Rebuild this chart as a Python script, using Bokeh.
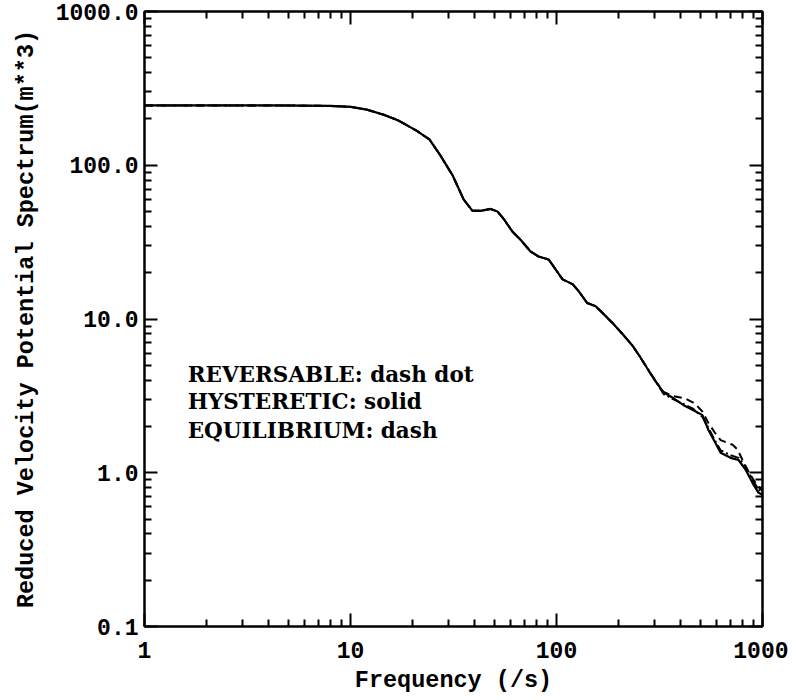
from bokeh.plotting import figure
from bokeh.models import LogAxis, FixedTicker, Label
from bokeh.embed import file_html
from bokeh.resources import INLINE
from bokeh.core.properties import value

# ---- data ----
freq_hyst = [1, 2, 4, 6, 8, 10, 12, 14.5, 17, 20.9, 24.2, 27.3, 31.3, 35.4, 39.1, 42.8,
             47.8, 51.7, 55.3, 61.1, 66.9, 74.8, 81.8, 91.5, 96.7, 107, 120, 128, 141,
             155, 169, 189, 209, 234, 256, 296, 331, 370, 414, 462, 511, 547, 591, 626,
             700, 765, 827, 894, 957, 1000]
spec_hyst = [245, 245, 245, 244, 243, 240, 230, 213, 196, 168, 147, 116, 86, 60, 50.5, 50.5,
             52, 50, 44.9, 37, 32.8, 27.5, 25.5, 24.4, 22, 18.1, 16.8, 15.2, 12.7,
             12.1, 10.8, 9.29, 8.0, 6.7, 5.6, 4.1, 3.33, 3.05, 2.75, 2.55, 2.37, 1.89, 1.56, 1.35,
             1.25, 1.21, 1.05, 0.86, 0.74, 0.72]

freq_equil = [1, 2, 4, 6, 8, 10, 12, 14.5, 17, 20.9, 24.2, 27.3, 31.3, 35.4, 39.1, 42.8,
              47.8, 51.7, 55.3, 61.1, 66.9, 74.8, 81.8, 91.5, 96.7, 107, 120, 128, 141,
              155, 169, 189, 209, 234, 256, 296, 331, 370, 420, 470, 511, 547, 591, 626,
              716, 755, 800, 860, 930, 1000]
spec_equil = [245, 245, 245, 244, 243, 240, 230, 213, 196, 168, 147, 116, 86, 60, 50.5, 50.5,
              52, 50, 44.9, 37, 32.8, 27.5, 25.5, 24.4, 22, 18.1, 16.8, 15.2, 12.7,
              12.1, 10.8, 9.29, 8.0, 6.7, 5.6, 4.1, 3.35, 3.15, 3.05, 2.82, 2.5, 2.1, 1.8, 1.63,
              1.52, 1.42, 1.21, 1.0, 0.85, 0.76]

freq_rev = [1, 2, 4, 6, 8, 10, 12, 14.5, 17, 20.9, 24.2, 27.3, 31.3, 35.4, 39.1, 42.8,
            47.8, 51.7, 55.3, 61.1, 66.9, 74.8, 81.8, 91.5, 96.7, 107, 120, 128, 141,
            155, 169, 189, 209, 234, 256, 296, 331, 370, 414, 462, 511, 547, 591, 626,
            700, 765, 827, 894, 957, 1000]
spec_rev = [245, 245, 245, 244, 243, 240, 230, 213, 196, 168, 147, 116, 86, 60, 50.5, 50.5,
            52, 50, 44.9, 37, 32.8, 27.5, 25.5, 24.4, 22, 18.1, 16.8, 15.2, 12.7,
            12.1, 10.8, 9.29, 8.0, 6.7, 5.6, 4.15, 3.25, 3.0, 2.8, 2.6, 2.3, 1.95, 1.6, 1.4,
            1.3, 1.25, 1.1, 0.9, 0.78, 0.74]

x_ticks = [1, 10, 100, 1000]
x_tick_labels = ["1", "10", "100", "1000"]
x_minor = [m * d for d in [1, 10, 100] for m in range(2, 10)]
y_ticks = [0.1, 1, 10, 100, 1000]
y_tick_labels = ["0.1", "1.0", "10.0", "100.0", "1000.0"]
y_minor = [m * d for d in [0.1, 1, 10, 100] for m in range(2, 10)]

legend_lines = ["REVERSABLE: dash dot", "HYSTERETIC: solid", "EQUILIBRIUM: dash"]
legend_y = [4.35, 2.92, 1.89]
legend_x = 1.62

p = figure(width=788, height=696, x_axis_type="log", y_axis_type="log",
           x_range=(1, 1000), y_range=(0.1, 1000),
           output_backend="svg", toolbar_location=None,
           min_border_left=144, min_border_right=26, min_border_top=11, min_border_bottom=68,
           x_axis_label="Frequency (/s)",
           y_axis_label="Reduced Velocity Potential Spectrum(m**3)")
p.xgrid.visible = False
p.ygrid.visible = False
p.outline_line_color = "black"
p.outline_line_width = 2
p.background_fill_color = "white"
p.border_fill_color = "white"

xt = FixedTicker(ticks=x_ticks, minor_ticks=x_minor)
yt = FixedTicker(ticks=y_ticks, minor_ticks=y_minor)

def style(ax, ticker):
    ax.ticker = ticker
    ax.axis_line_color = "black"
    ax.axis_line_width = 2
    ax.major_tick_line_color = "black"
    ax.major_tick_line_width = 2
    ax.minor_tick_line_color = "black"
    ax.minor_tick_line_width = 2
    ax.major_tick_in = 13
    ax.major_tick_out = 0
    ax.minor_tick_in = 7
    ax.minor_tick_out = 0

xa = p.xaxis[0]
style(xa, xt)
xa.major_label_overrides = dict(zip(x_ticks, x_tick_labels))
xa.major_label_text_font = "Liberation Mono"
xa.major_label_text_font_style = "bold"
xa.major_label_text_font_size = "23px"
xa.major_label_text_color = "black"
xa.major_label_standoff = 15
xa.axis_label_text_font = "Liberation Mono"
xa.axis_label_text_font_style = "bold"
xa.axis_label_text_font_size = "23.5px"
xa.axis_label_text_color = "black"
xa.axis_label_standoff = 6

ya = p.yaxis[0]
style(ya, yt)
ya.major_label_overrides = dict(zip(y_ticks, y_tick_labels))
ya.major_label_text_font = "Liberation Mono"
ya.major_label_text_font_style = "bold"
ya.major_label_text_font_size = "23px"
ya.major_label_text_color = "black"
ya.major_label_standoff = 6
ya.axis_label_text_font = "Liberation Mono"
ya.axis_label_text_font_style = "bold"
ya.axis_label_text_font_size = "23.5px"
ya.axis_label_text_color = "black"
ya.axis_label_standoff = 13

top = LogAxis(major_label_text_font_size="2px", major_label_text_alpha=0, major_label_standoff=0)
style(top, FixedTicker(ticks=x_ticks, minor_ticks=x_minor))
p.add_layout(top, "above")
right = LogAxis(major_label_text_font_size="2px", major_label_text_alpha=0, major_label_standoff=0)
style(right, FixedTicker(ticks=y_ticks, minor_ticks=y_minor))
p.add_layout(right, "right")

p.line(freq_rev, spec_rev, line_color="black", line_width=2, line_dash="9 3 2 3")
p.line(freq_equil, spec_equil, line_color="black", line_width=2, line_dash="8 5")
p.line(freq_hyst, spec_hyst, line_color="black", line_width=2.2)

for txt, yv in zip(legend_lines, legend_y):
    p.add_layout(Label(x=legend_x, y=yv, text=txt, text_font="DejaVu Serif",
                       text_font_style="bold", text_font_size="21.5px",
                       text_baseline="middle", text_align="left", text_color="black"))

open("out.html", "w").write(file_html(p, INLINE))
